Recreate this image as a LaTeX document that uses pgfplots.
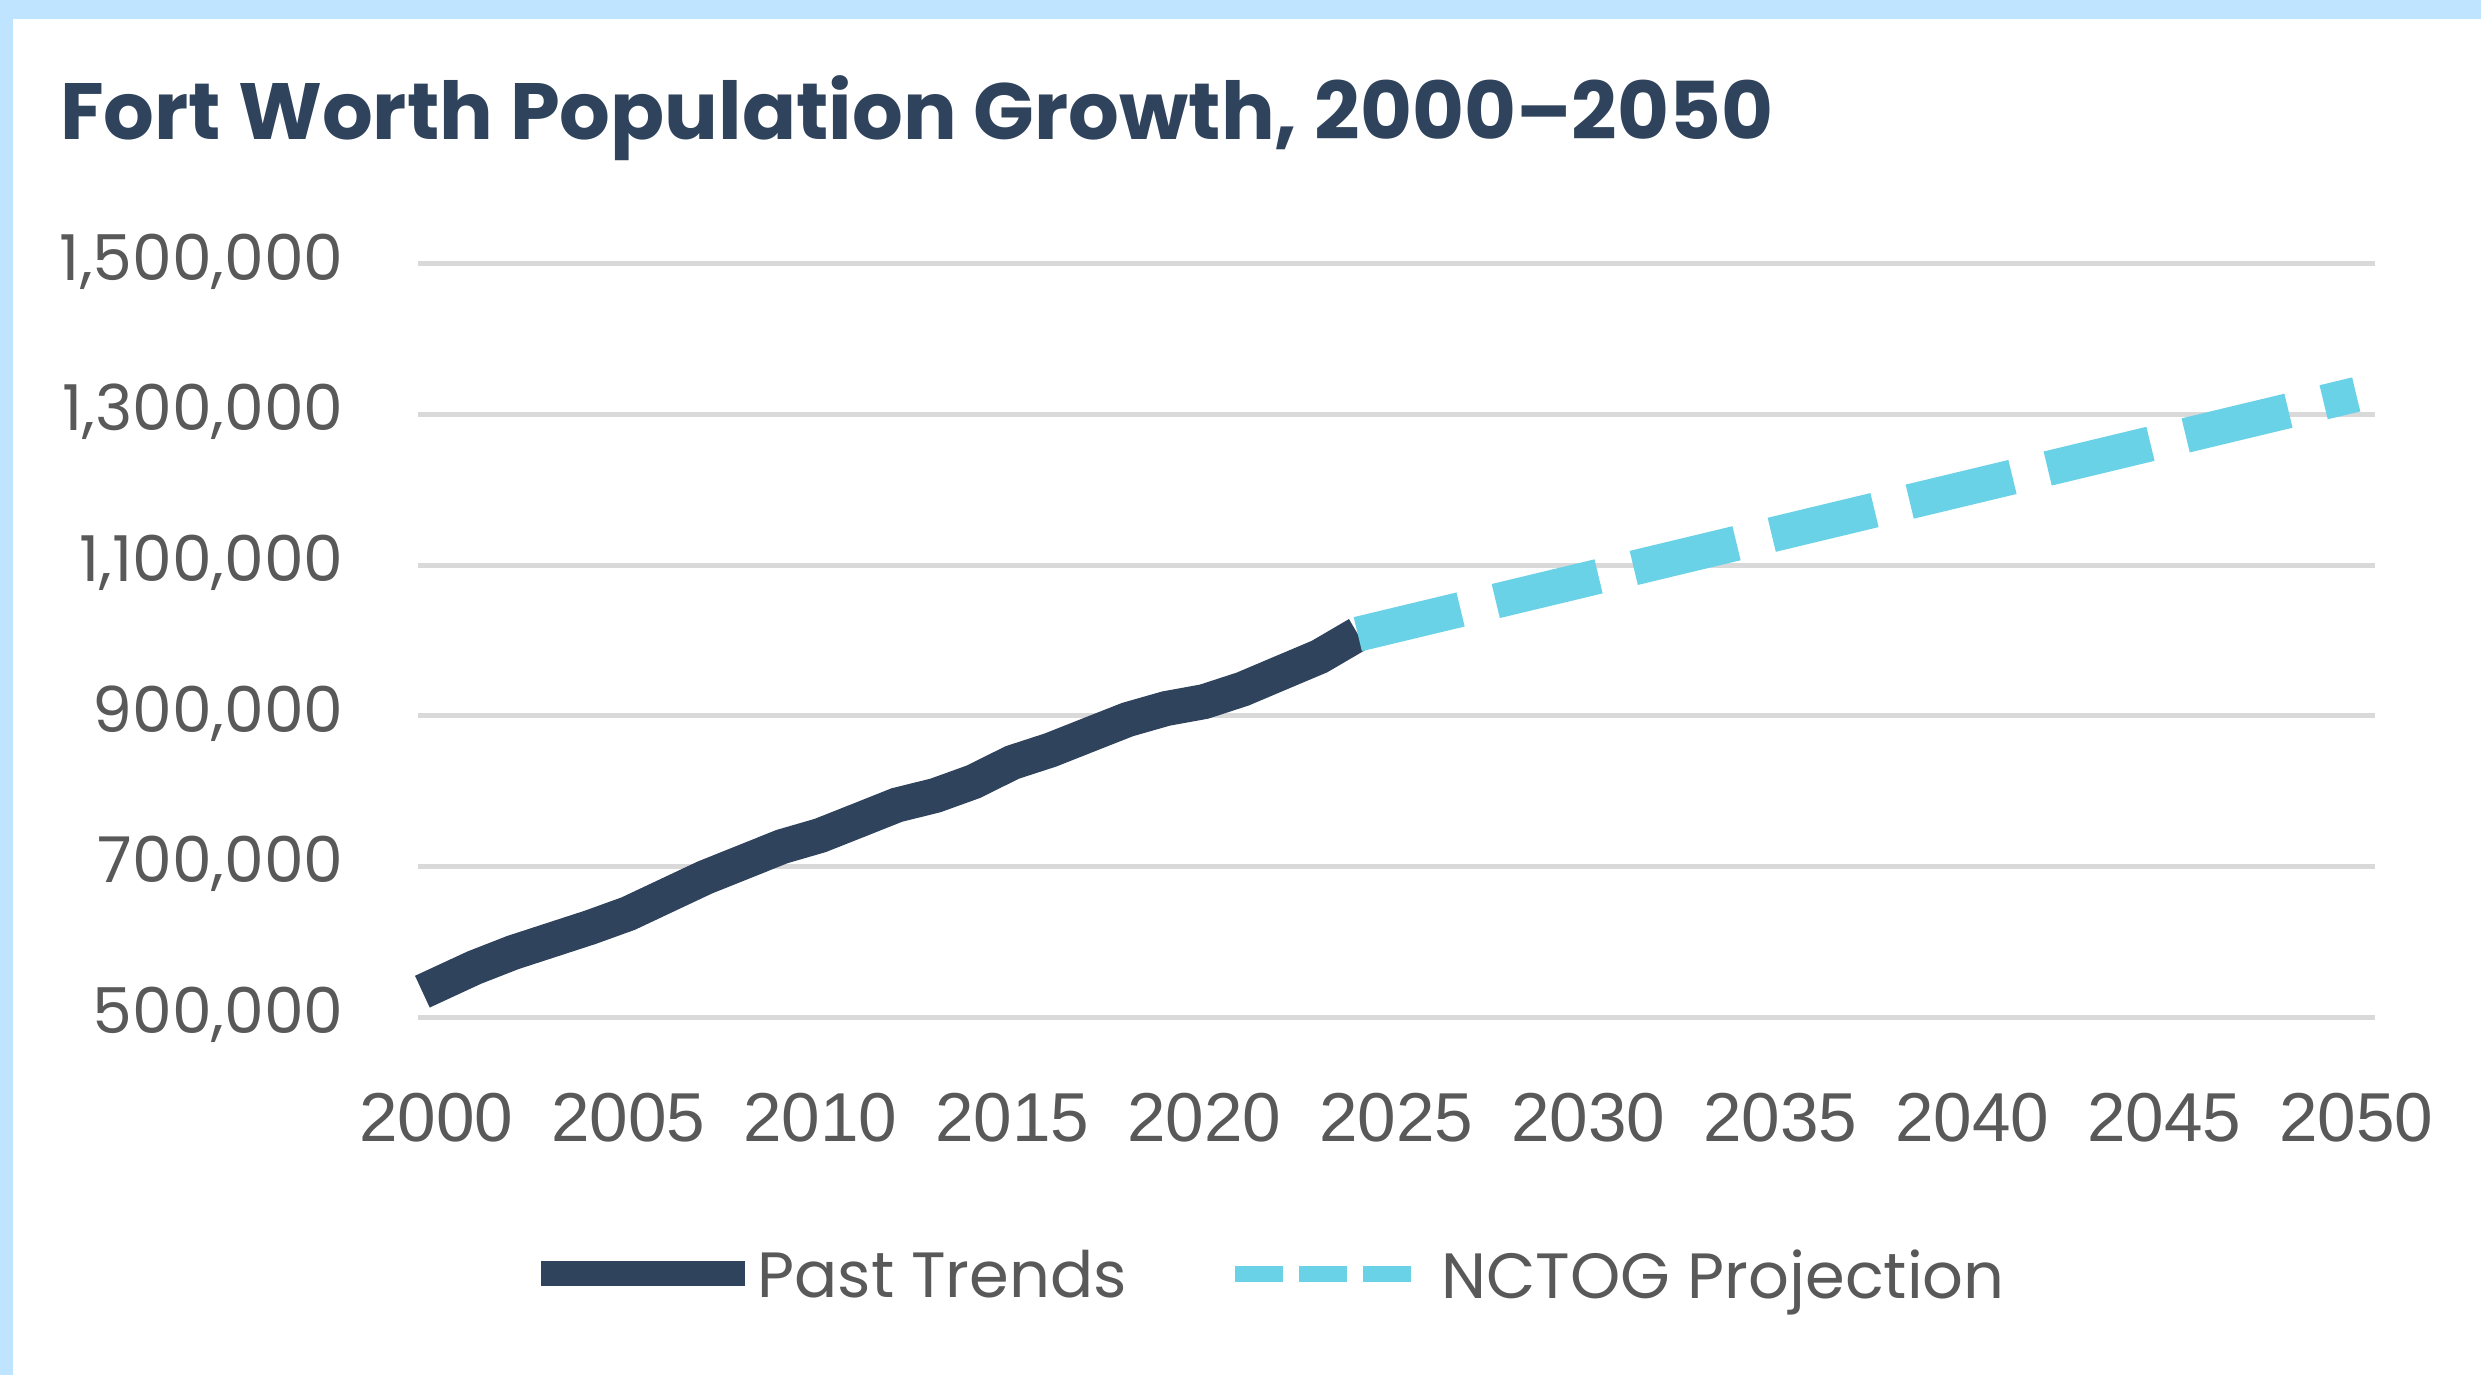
\documentclass[border=0pt]{standalone}
\usepackage{fontspec}
\setmainfont{Poppins}
\newfontfamily\arialf{Liberation Sans}
\usepackage{pgfplots}
\pgfplotsset{compat=1.18}
\definecolor{navy}{HTML}{2F435C}
\definecolor{cyanl}{HTML}{69D2E7}
\definecolor{gridgray}{HTML}{D9D9D9}
\definecolor{labgray}{HTML}{595959}
\definecolor{bgblue}{HTML}{BEE4FF}
\begin{document}
\begin{tikzpicture}
\useasboundingbox (0,0) rectangle (248.1mm,137.5mm);
\fill[bgblue] (0,0) rectangle (248.1mm,137.5mm);
\fill[white] (1.27mm,0) rectangle (248.1mm,135.6mm);
\node[anchor=base west, inner sep=0pt, text=navy, font=\fontsize{22.7pt}{27pt}\selectfont\bfseries] at (5.95mm,123.5mm) {Fort Worth Population Growth, 2000--2050};
\begin{axis}[
  at={(41.82mm,35.77mm)}, anchor=south west,
  scale only axis, width=195.68mm, height=75.34mm,
  xmin=1999.531, xmax=2050.49, ymin=500000, ymax=1500000,
  clip=false,
  axis line style={draw=none},
  major tick length=0pt,
  ymajorgrids, grid style={line width=0.5mm, color=gridgray},
  xtick={2000,2005,...,2050},
  ytick={500000,700000,900000,1100000,1300000,1500000},
  scaled y ticks=false, scaled x ticks=false,
  xticklabel={\pgfmathprintnumber[fixed,precision=0,1000 sep={},assume math mode=true]{\tick}},
  yticklabel={\pgfmathprintnumber[fixed,precision=0,1000 sep={,},assume math mode=true]{\tick}},
  xticklabel style={anchor=north, inner sep=0pt, yshift=-7.5mm, text=labgray, font=\arialf\fontsize{19.7pt}{23pt}\selectfont},
  yticklabel style={anchor=east, inner sep=0pt, xshift=-7.4mm, yshift=0.25mm, text=labgray, font=\fontsize{18.0pt}{22pt}\selectfont},
  legend columns=2,
  legend style={draw=none, fill=none, inner sep=0pt, outer sep=0pt, column sep=0pt, row sep=0pt,
    at={(rel axis cs:0.0563,-0.3405)}, anchor=west,
    nodes={inner sep=0pt, text depth=0pt, text=labgray, font=\fontsize{18.2pt}{22pt}\selectfont}},
]
\addplot[color=navy, line width=3.5mm, line join=miter,
  legend image code/.code={\path[draw=none,fill=none] (0mm,-1.25mm) (20.4mm,1.25mm);
    \draw[line width=2.5mm, color=navy, solid] (0mm,0mm) -- (20.4mm,0mm);}]
table {
x y
1999.64 534000
2001 566100
2002 586000
2003 602600
2004 619200
2005 637600
2006 661600
2007 685600
2008 706000
2009 726500
2010 741300
2011 761500
2012 781800
2013 794400
2014 812800
2015 838200
2016 854800
2017 875000
2018 895100
2019 909700
2020 919000
2021 935600
2022 957200
2023 978700
2024 1008500
};
\addlegendentry{Past Trends}
\addplot[color=cyanl, line width=3.5mm, dash pattern=on 10.57mm off 3.62mm,
  legend image code/.code={\path[draw=none,fill=none] (-10.8mm,-1.25mm) (20.65mm,1.25mm);
    \draw[line width=1.57mm, color=cyanl, solid] (0mm,0mm) -- (4.8mm,0mm);
    \draw[line width=1.57mm, color=cyanl, solid] (6.4mm,0mm) -- (11.2mm,0mm);
    \draw[line width=1.57mm, color=cyanl, solid] (12.8mm,0mm) -- (17.6mm,0mm);}]
table {
x y
2024 1008500
2050 1326700
};
\addlegendentry{NCTOG Projection}
\end{axis}
\end{tikzpicture}
\end{document}
